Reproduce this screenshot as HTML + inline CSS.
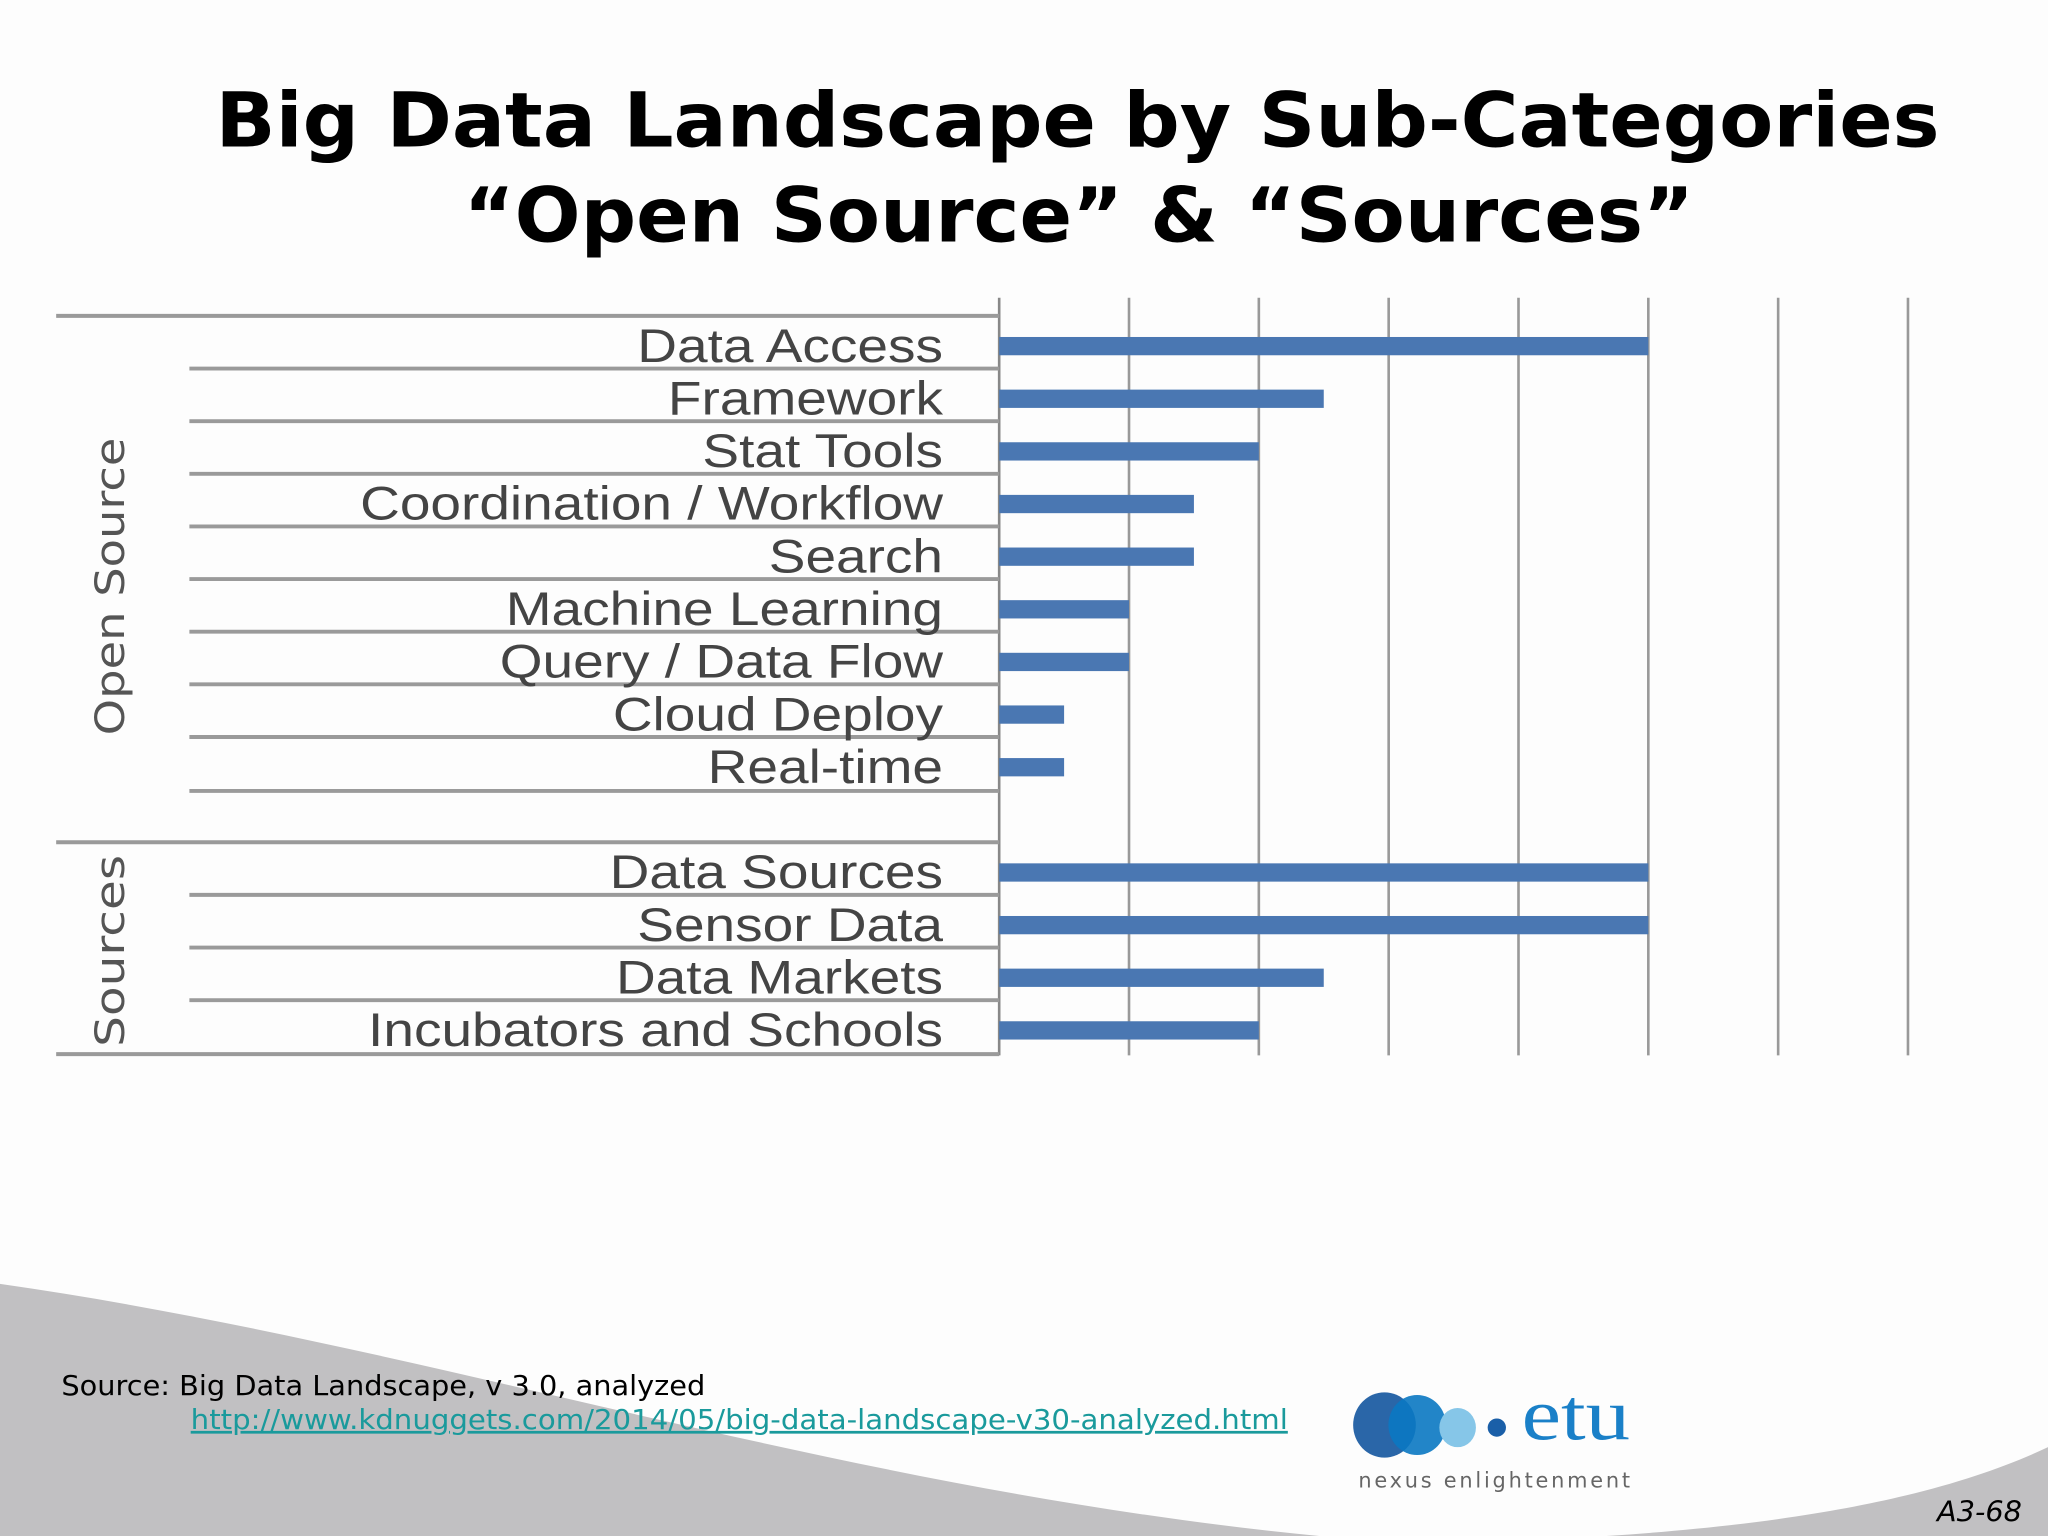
<!DOCTYPE html>
<html><head><meta charset="utf-8">
<style>
html,body{margin:0;padding:0;background:#fff;}
svg{display:block;}
</style></head>
<body>
<svg id="slide" width="2048" height="1536" viewBox="0 0 1568 1176" xmlns="http://www.w3.org/2000/svg">
  <rect width="1568" height="1176" fill="#fdfdfd"/>
  <path d="M0,983 C330,1030 640,1140 1010,1176 L0,1176 Z" fill="#c1c0c2"/>
  <path d="M1568,1108 C1500,1140 1400,1165 1230,1176 L1568,1176 Z" fill="#c1c0c2"/>
  <g font-family="'DejaVu Sans', Verdana, sans-serif" font-weight="bold" font-size="58" fill="#000">
    <text x="165" y="112" textLength="1320" lengthAdjust="spacingAndGlyphs">Big Data Landscape by Sub-Categories</text>
    <text x="355" y="185" textLength="942" lengthAdjust="spacingAndGlyphs">“Open Source” &amp; “Sources”</text>
  </g>
  <g id="chart"></g>
  <text x="47" y="1068" font-family="'DejaVu Sans', Verdana, sans-serif" font-size="21" fill="#000" textLength="493" lengthAdjust="spacingAndGlyphs">Source: Big Data Landscape, v 3.0, analyzed</text>
  <text x="146" y="1094" font-family="'DejaVu Sans', Verdana, sans-serif" font-size="21" fill="#1a9a9c" text-decoration="underline" textLength="840" lengthAdjust="spacingAndGlyphs">http://www.kdnuggets.com/2014/05/big-data-landscape-v30-analyzed.html</text>
  <g>
    <ellipse cx="1060" cy="1091" rx="24" ry="25" fill="#2a66a8"/>
    <ellipse cx="1085" cy="1091" rx="22" ry="23" fill="#0a78c2" opacity="0.9"/>
    <ellipse cx="1116" cy="1093" rx="14" ry="15" fill="#86c6e8"/>
    <circle cx="1146" cy="1093" r="7" fill="#1a5fa8"/>
    <text x="1165" y="1102" font-family="'Liberation Serif', serif" font-size="56" fill="#1a80c8" textLength="83" lengthAdjust="spacingAndGlyphs">etu</text>
    <text x="1040" y="1139" font-family="'DejaVu Sans', sans-serif" font-size="16" fill="#666" textLength="208">nexus enlightenment</text>
  </g>
  <text x="1548" y="1165" text-anchor="end" font-family="'DejaVu Sans', Verdana, sans-serif" font-style="italic" font-size="22" fill="#000">A3-68</text>
</svg>
<script>
const categories = ["Data Access","Framework","Stat Tools","Coordination / Workflow","Search","Machine Learning","Query / Data  Flow","Cloud Deploy","Real-time","Data Sources","Sensor Data","Data Markets","Incubators and Schools"];
const groups = ["Open Source","Open Source","Open Source","Open Source","Open Source","Open Source","Open Source","Open Source","Open Source","Sources","Sources","Sources","Sources"];
const values = [5,2.5,2,1.5,1.5,1,1,0.5,0.5,5,5,2.5,2];
const gridTicks = [0,1,2,3,4,5,6,7];

const NS = "http://www.w3.org/2000/svg";
const chart = document.getElementById('chart');
const x0 = 765, unit = 99.4, gridTop = 228, gridBottom = 808;
const xScale = v => x0 + v * unit;
const rowH = 40.3;
function rowIndex(i){ let g = 0; for (let k=1;k<=i;k++){ if (groups[k]!==groups[k-1]) g++; } return i + g; }
const yCenter = i => 265 + rowIndex(i) * rowH;

function mk(tag, attrs){ const e = document.createElementNS(NS, tag); for (const k in attrs) e.setAttribute(k, attrs[k]); chart.appendChild(e); return e; }

gridTicks.forEach(t => {
  const l = mk('line', {x1: xScale(t), x2: xScale(t), y1: gridTop, y2: gridBottom, stroke: t===0 ? '#888' : '#999', 'stroke-width': 2});
  
  
});

const firstOfGroup = i => i===0 || groups[i]!==groups[i-1];
categories.forEach((c, i) => {
  const yc = yCenter(i);
  const top = yc - rowH/2 - 3;
  const long = firstOfGroup(i);
  const s = mk('line', {x1: long ? 43 : 145, x2: x0, y1: top, y2: top, stroke: '#9a9a9a', 'stroke-width': 3});
  
  
});
[8, 12].forEach(i => {
  const y = yCenter(i) + rowH/2 - 2;
  const s = mk('line', {x1: i===12 ? 43 : 145, x2: x0, y1: y, y2: y, stroke: '#9a9a9a', 'stroke-width': 3});
  
  
});

categories.forEach((c, i) => {
  const yc = yCenter(i);
  const b = mk('rect', {x: x0, y: yc - 7, width: xScale(values[i]) - x0, height: 14, fill: '#4a77b2'});
  
  
  const t = mk('text', {x: 722, y: yc + 12, 'text-anchor': 'end', 'font-family': "'Liberation Sans',sans-serif", 'font-size': 36, fill: '#444'});
  t.textContent = c;
  
  
  const w = t.getComputedTextLength();
  t.setAttribute('textLength', (w * 1.17).toFixed(1));
  t.setAttribute('lengthAdjust', 'spacingAndGlyphs');
});

[["Open Source", 449, 228], ["Sources", 728, 147]].forEach(g => {
  const t = mk('text', {x: 0, y: 0, 'text-anchor': 'middle', transform: 'translate(95,' + g[1] + ') rotate(-90)', 'font-family': "'DejaVu Sans',sans-serif", 'font-size': 31, fill: '#555', textLength: g[2], lengthAdjust: 'spacingAndGlyphs'});
  t.textContent = g[0];
  
  
});
</script>
</body></html>
